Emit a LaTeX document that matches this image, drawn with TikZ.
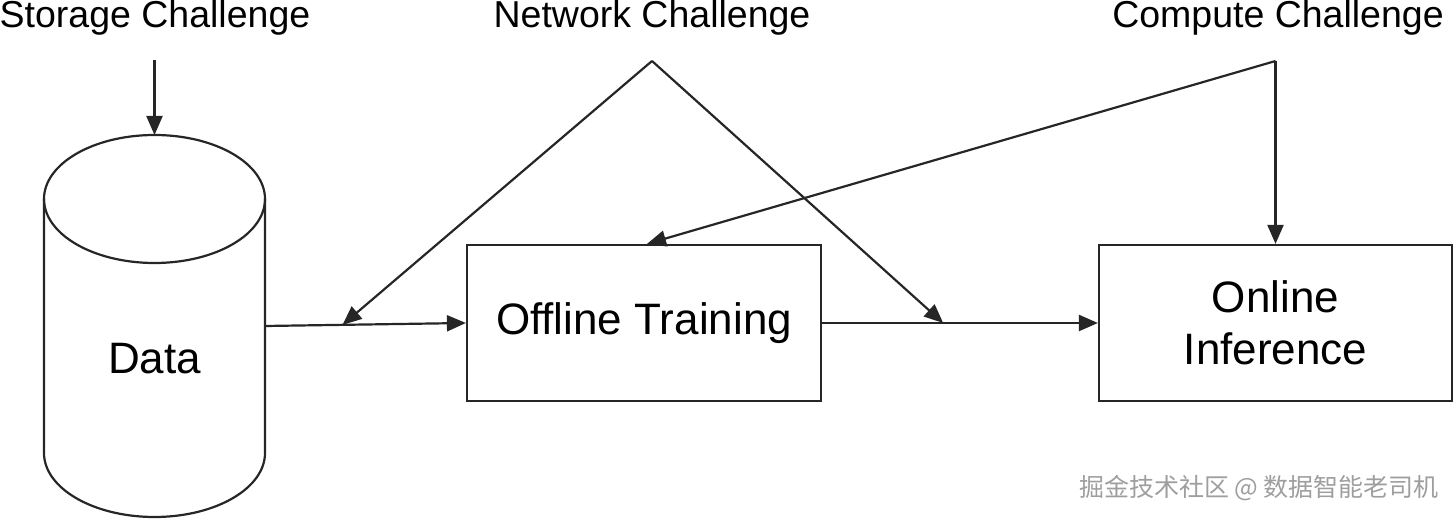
\documentclass[tikz,border=0pt]{standalone}
\usepackage{fontspec}
\setmainfont{Liberation Sans}
\newfontfamily\cjkfont{Noto Sans CJK SC}
\usetikzlibrary{arrows.meta,positioning,calc}
\definecolor{inkgray}{rgb}{0.15,0.15,0.15}
\definecolor{markgray}{rgb}{0.62,0.62,0.62}

\begin{document}
\begin{tikzpicture}[x=1pt,y=1pt,
    line/.style={draw=inkgray, line width=2.2pt},
    flow/.style={line, -{Triangle[length=19pt,width=16pt]}},
    block/.style={line, minimum width=354pt, minimum height=156pt, align=center,
      font=\fontsize{44}{52}\selectfont},
    challenge/.style={font=\fontsize{37.5}{44}\selectfont, anchor=base}]
  \useasboundingbox (0,0) rectangle (1455,519);

  % challenge labels
  \node[challenge] (storage) at (155,491) {Storage Challenge};
  \node[challenge] (network) at (652,491) {Network Challenge};
  \node[challenge] (compute) at (1278,491) {Compute Challenge};

  % data cylinder
  \draw[line] (44,320) -- (44,66)
    arc[start angle=180, end angle=360, x radius=110.5, y radius=64] -- (265,320);
  \draw[line] (154.5,320) ellipse[x radius=110.5, y radius=64];
  \node[font=\fontsize{44}{52}\selectfont] (data) at (154.5,160) {Data};
  \coordinate (datatop) at (154.5,384);
  \coordinate (dataout) at (265,193);

  % boxes
  \node[block] (train) at (644,196) {\raisebox{-3pt}{Offline Training}};
  \node[block, minimum width=353pt] (infer) at (1275.5,196) {Online\\Inference};

  % main flow
  \draw[flow] (dataout) -- (train.west);
  \draw[flow] (train.east) -- (infer.west);

  % storage
  \coordinate (storein) at (154.5,459);
  \draw[flow] (storein) -- (datatop);

  % network
  \coordinate (netapex) at (652,458);
  \coordinate (neta) at ($(dataout)!0.386!(train.west)$);
  \coordinate (netb) at ($(train.east)!0.439!(infer.west)$);
  \draw[flow] (netapex) -- (neta);
  \draw[flow] (netapex) -- (netb);

  % compute
  \coordinate (compapex) at (infer.north |- 0,458);
  \draw[flow] (compapex) -- (infer.north);
  \draw[flow] (compapex) -- ([xshift=3pt]train.north);

  % watermark
  \node[font=\cjkfont\fontsize{25}{30}\selectfont, text=markgray] (mark) at (1259,31)
    {掘金技术社区 @ 数据智能老司机};
\end{tikzpicture}
\end{document}
